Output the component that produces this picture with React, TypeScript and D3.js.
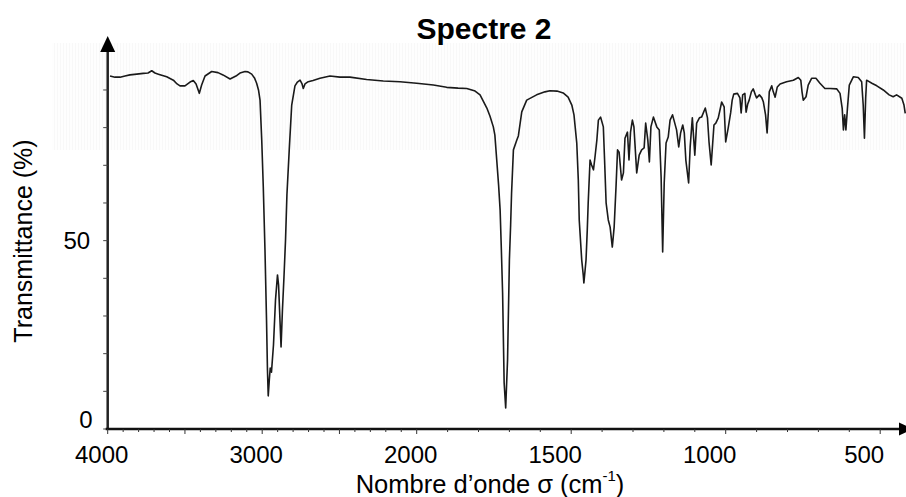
import React from "react";
import * as d3 from "d3";

// Wavenumbers (cm-1) and transmittance (%)
const wavenumbers = [
  3985, 3953, 3920, 3888, 3856, 3812, 3770, 3739, 3715, 3694, 3672, 3618, 3575, 3551, 3532, 3500,
  3467, 3446, 3428, 3407, 3392, 3370, 3327, 3286, 3254, 3208, 3170, 3144, 3111, 3092, 3068, 3050,
  3036, 3024, 3014, 3003, 2993, 2982, 2972, 2966, 2961, 2954, 2948, 2940, 2927, 2914, 2901, 2894,
  2885, 2878, 2869, 2859, 2849, 2840, 2825, 2809, 2797, 2788, 2772, 2755, 2742, 2734, 2723, 2702,
  2671, 2626, 2561, 2497, 2432, 2324, 2216, 2108, 2000,
  1946, 1903, 1866, 1838, 1811, 1795, 1773, 1763, 1752, 1747, 1741, 1735, 1730, 1726, 1722, 1717,
  1712, 1706, 1700, 1696, 1693, 1687, 1676, 1671, 1660, 1644, 1612, 1585, 1569, 1546, 1526, 1510,
  1498, 1491, 1482, 1477, 1474, 1466, 1461, 1459, 1455, 1452, 1448, 1445, 1439, 1434, 1428, 1423,
  1417, 1412, 1405, 1396, 1392, 1387, 1380, 1374, 1367, 1361, 1355, 1350, 1345, 1337, 1331, 1326,
  1318, 1313, 1308, 1302, 1297, 1288, 1280, 1272, 1264, 1259, 1252, 1247, 1242, 1234, 1223, 1215,
  1209, 1204, 1199, 1193, 1186, 1180, 1172, 1159, 1152, 1146, 1139, 1134, 1129, 1120, 1115, 1108,
  1100, 1094, 1085, 1078, 1066, 1059, 1054, 1047, 1038, 1032, 1024, 1013, 1005, 1000, 992, 984,
  979, 974, 962, 954, 950, 945, 938, 934, 929, 924, 917, 911, 904, 900, 891, 883, 878, 871, 866,
  862, 859, 851, 846, 840, 833, 824, 803, 781, 765, 757, 753, 749, 740, 733, 722, 708, 695, 679,
  662, 641, 630, 623, 619, 615, 611, 606, 600, 587, 571, 560, 555, 551, 547, 544, 527, 511, 490,
  471, 458, 447, 430, 423, 419,
];
const transmittance = [
  93.7, 93.4, 93.4, 93.7, 94.0, 94.2, 94.4, 94.5, 95.1, 94.5, 94.2, 93.5, 92.6, 91.6, 91.1, 91.1,
  92.1, 92.5, 91.6, 89.1, 91.3, 93.7, 94.9, 94.6, 94.0, 92.9, 93.7, 94.5, 94.9, 94.8, 94.2, 93.2,
  91.8, 90.0, 87.3, 76.7, 64.3, 47.5, 28.9, 15.7, 8.8, 13.0, 16.2, 15.1, 22.3, 34.2, 40.9, 38.2,
  28.9, 21.8, 31.6, 40.4, 50.2, 62.1, 74.1, 86.0, 88.9, 91.1, 92.1, 92.6, 91.6, 90.4, 91.6, 92.2,
  92.5, 93.1, 93.7, 93.4, 93.4, 92.8, 92.4, 92.2, 91.8,
  91.3, 90.7, 90.5, 90.4, 89.7, 88.7, 85.2, 83.1, 80.2, 78.0, 71.4, 64.8, 58.1, 47.5, 36.1, 12.2,
  5.6, 18.3, 44.9, 54.2, 62.6, 74.1, 76.7, 77.8, 84.2, 87.3, 88.7, 89.5, 89.8, 89.7, 89.2, 88.1,
  86.0, 83.4, 75.9, 66.1, 55.5, 44.9, 40.9, 38.8, 42.2, 44.9, 52.8, 60.0, 71.4, 70.1, 68.8, 72.2,
  76.7, 82.0, 82.8, 80.2, 71.4, 60.0, 55.5, 53.6, 48.3, 53.6, 64.2, 74.1, 73.5, 66.1, 68.0, 77.2,
  78.8, 71.4, 78.8, 82.0, 80.2, 68.0, 72.7, 74.1, 74.6, 81.2, 76.7, 70.9, 80.2, 82.8, 80.2, 79.4,
  66.9, 47.0, 65.3, 75.9, 77.5, 82.0, 83.4, 79.4, 74.9, 78.6, 80.7, 78.6, 71.4, 65.3, 74.9, 82.6,
  72.7, 81.2, 82.6, 82.8, 85.2, 82.6, 76.2, 70.1, 80.7, 81.2, 82.6, 86.8, 85.5, 76.2, 79.9, 83.9,
  87.3, 88.9, 89.1, 87.9, 83.9, 88.7, 89.1, 84.1, 86.2, 87.3, 89.5, 90.3, 88.7, 87.9, 88.7, 87.9, 86.8, 83.4, 78.6,
  84.2, 89.5, 91.1, 89.5, 88.1, 90.8, 91.6, 92.2, 92.6, 93.3, 92.6, 89.5, 87.3, 88.2, 91.3, 93.1, 93.1, 91.8, 90.4,
  90.4, 90.3, 89.1, 85.1, 79.4, 83.4, 79.4, 85.1, 91.3, 93.5, 93.3, 92.2, 86.0, 77.2, 87.8, 92.6, 91.8, 91.1, 90.0,
  88.7, 88.2, 88.7, 87.8, 86.0, 83.8,
];

const xTickValues = d3.range(4000, 499, -100);
const xTickLabels = [4000, 3000, 2000, 1500, 1000, 500];
const yTickValues = d3.range(0, 91, 10);
const yTickLabels = [0, 50];

const title = "Spectre 2";
const xTitle = "Nombre d’onde σ (cm";
const xTitleSup = "-1";
const yTitle = "Transmittance (%)";

const FONT = "'Liberation Sans', Arial, Helvetica, sans-serif";

export default function App() {
  const x = d3.scaleLinear().domain([4000, 2000, 0]).range([107.7, 416.7, 1034.7]);
  const y = d3.scaleLinear().domain([0, 100]).range([429, 52.3]);

  const pts = wavenumbers.map((w, i) => [w, transmittance[i]] as [number, number]);
  const line = d3
    .line<[number, number]>()
    .x((d) => x(d[0]))
    .y((d) => y(d[1]))
    .curve(d3.curveLinear);

  const x0 = x(4000);
  const y0 = y(0);

  return (
    <svg
      width={906}
      height={497}
      style={{ position: "absolute", left: 0, top: 0, display: "block", background: "#fff" }}
      fontFamily={FONT}
    >
      <defs>
        <pattern id="stripes" width={3} height={10} patternUnits="userSpaceOnUse">
          <rect width={3} height={10} fill="#fefefe" />
          <rect width={1} height={10} fill="#f8f8f8" />
        </pattern>
      </defs>
      <rect x={52} y={43} width={854} height={107} fill="url(#stripes)" />

      <text x={484} y={39} textAnchor="middle" fontSize={30} fontWeight="bold" fill="#000">
        {title}
      </text>

      {/* spectrum */}
      <path d={line(pts) || ""} fill="none" stroke="#1a1a1a" strokeWidth={1.6} strokeLinejoin="round" />

      {/* y axis */}
      <line x1={x0} x2={x0} y1={y0} y2={50} stroke="#222" strokeWidth={2.5} />
      <polygon points={`${x0},36 ${x0 - 7.5},52 ${x0 + 7.5},52`} fill="#000" />
      {yTickValues.map((v) => (
        <line key={v} x1={x0 - 4.5} x2={x0} y1={y(v)} y2={y(v)} stroke="#444" strokeWidth={1} />
      ))}
      {yTickLabels.map((v) => (
        <text
          key={v}
          x={x0 - (v === 0 ? 15 : 17.5)}
          y={y(v) + (v === 0 ? -1 : 8.5)}
          textAnchor="end"
          fontSize={24}
          fill="#000"
        >
          {v}
        </text>
      ))}

      {/* x axis */}
      <line x1={x0 - 2} x2={900} y1={y0} y2={y0} stroke="#111" strokeWidth={2.5} />
      <polygon points={`899,${y0 - 6.5} 899,${y0 + 6.5} 913,${y0}`} fill="#000" />
      {xTickValues.map((v) => (
        <line
          key={v}
          x1={x(v)}
          x2={x(v)}
          y1={y0}
          y2={y0 + (v % 500 === 0 ? 5 : 3)}
          stroke="#333"
          strokeWidth={1}
        />
      ))}
      {xTickLabels.map((v) => (
        <text
          key={v}
          x={x(v) + (v >= 2000 ? -6 : -16)}
          y={463}
          textAnchor="middle"
          fontSize={24}
          fill="#000"
        >
          {v}
        </text>
      ))}

      {/* axis titles */}
      <text x={490} y={493} textAnchor="middle" fontSize={25.5} fill="#000">
        {xTitle}
        <tspan fontSize={15} dy={-12}>
          {xTitleSup}
        </tspan>
        <tspan dy={12}>)</tspan>
      </text>
      <text
        transform={`translate(32, 241) rotate(-90)`}
        textAnchor="middle"
        fontSize={25}
        fill="#000"
      >
        {yTitle}
      </text>
    </svg>
  );
}
